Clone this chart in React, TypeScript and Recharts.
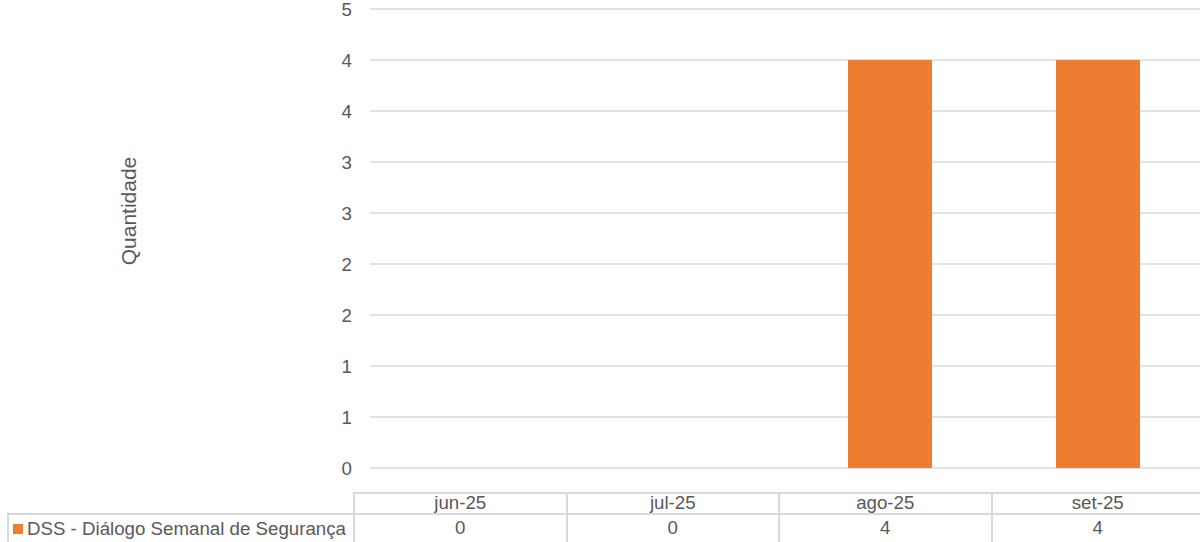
import React from "react";
import { BarChart, Bar, XAxis, YAxis, CartesianGrid } from "recharts";

const months = ["jun-25", "jul-25", "ago-25", "set-25"];
const dssValues = [0, 0, 4, 4];
const yTicks = [0, 0.5, 1, 1.5, 2, 2.5, 3, 3.5, 4, 4.5];
const seriesName = "DSS - Diálogo Semanal de Segurança";

const ORANGE = "#ED7D31";
const TEXT = "#595959";
const LINE = "#D9D9D9";
const FONT = "'Liberation Sans', Arial, sans-serif";

// table columns (as in the picture, slightly offset from the plot)
const TABLE_LEFT = 353;
const COL_W = 212.5;
const ROW1_TOP = 492;
const ROW2_TOP = 513;

const App: React.FC = () => {
    const data = months.map((m, i) => ({ month: m, dss: dssValues[i] }));

    return (
        <div style={{ position: "absolute", left: 0, top: 0, width: 1200, height: 542, overflow: "hidden", background: "#fff", fontFamily: FONT }}>
            <BarChart
                width={1210}
                height={542}
                data={data}
                margin={{ top: 9, right: 8, left: 0, bottom: 74 }}
                barSize={84}
            >
                <CartesianGrid vertical={false} stroke={LINE} strokeWidth={1.3} />
                <XAxis dataKey="month" hide />
                <YAxis
                    width={370}
                    domain={[0, 4.5]}
                    ticks={yTicks}
                    interval={0}
                    tickFormatter={(v: number) => String(Math.round(v))}
                    axisLine={false}
                    tickLine={false}
                    tickMargin={12}
                    tick={{ fill: TEXT, fontSize: 18.7, fontFamily: FONT }}
                />
                <Bar dataKey="dss" name={seriesName} fill={ORANGE} isAnimationActive={false} />
            </BarChart>

            {/* y axis title */}
            <div style={{ position: "absolute", left: 129, top: 211, transform: "translate(-50%, -50%) rotate(-90deg)", color: TEXT, fontSize: 21, whiteSpace: "nowrap" }}>
                Quantidade
            </div>

            {/* data table: header row */}
            <div style={{ position: "absolute", left: TABLE_LEFT, top: ROW1_TOP, width: 1200 - TABLE_LEFT + 20, borderTop: `2px solid ${LINE}` }} />
            <div style={{ position: "absolute", left: 7, top: ROW2_TOP, width: 1220, borderTop: `2px solid ${LINE}` }} />
            <div style={{ position: "absolute", left: 7, top: ROW2_TOP, height: 40, borderLeft: `2px solid ${LINE}` }} />
            {months.map((m, i) => (
                <div key={`h-${m}`} style={{ position: "absolute", left: TABLE_LEFT + i * COL_W, top: ROW1_TOP, width: COL_W, height: 60, borderLeft: `2px solid ${LINE}`, boxSizing: "border-box" }}>
                    <div style={{ height: 21, lineHeight: "22px", textAlign: "center", color: TEXT, fontSize: 18.7 }}>{m}</div>
                    <div style={{ height: 28, lineHeight: "30px", textAlign: "center", color: TEXT, fontSize: 18.7 }}>{dssValues[i]}</div>
                </div>
            ))}
            {/* legend key cell */}
            <div style={{ position: "absolute", left: 13, top: ROW2_TOP + 2, height: 28, lineHeight: "28px", color: TEXT, fontSize: 18.7, whiteSpace: "nowrap", display: "flex", alignItems: "center" }}>
                <span style={{ display: "inline-block", width: 10, height: 10, background: ORANGE, marginRight: 4 }} />
                {seriesName}
            </div>
        </div>
    );
};

export default App;
